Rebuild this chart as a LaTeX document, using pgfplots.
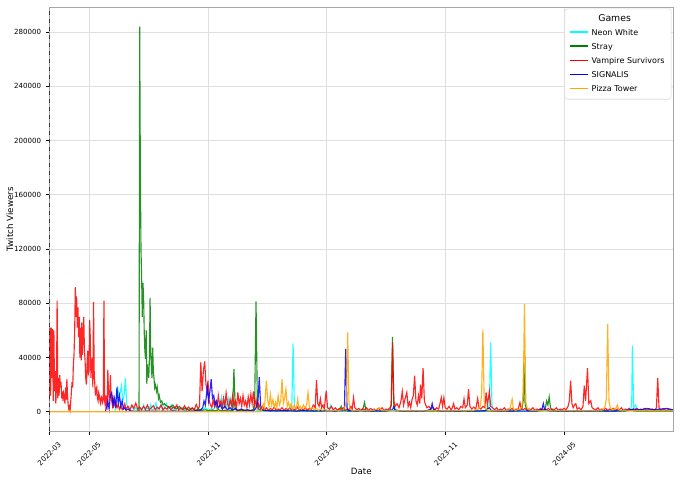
\documentclass[border=0pt]{standalone}
\usepackage{fontspec}
\setmainfont{DejaVu Sans}
\usepackage{pgfplots}
\pgfplotsset{compat=1.18}
\definecolor{mcyan}{HTML}{00FFFF}
\definecolor{mgreen}{HTML}{008000}
\definecolor{mred}{HTML}{FF0000}
\definecolor{mblue}{HTML}{0000FF}
\definecolor{morange}{HTML}{FFA500}
\begin{document}
\begin{tikzpicture}
\useasboundingbox (-37pt,-40.5pt) rectangle (473pt,323.3pt);
\begin{axis}[
  scale only axis,
  width=468pt, height=317.8pt,
  xmin=0, xmax=960,
  ymin=-14200, ymax=298200,
  xtick={0,61,245,426,610,792},
  xticklabels={2022-03,2022-05,2022-11,2023-05,2023-11,2024-05},
  ytick={0,40000,80000,120000,160000,200000,240000,280000},
  scaled y ticks=false,
  yticklabel style={/pgf/number format/.cd, fixed, 1000 sep={}, assume math mode=true},
  tick label style={font=\fontsize{5.3}{6}\selectfont},
  x tick label style={yshift=-14.5pt, rotate=45, anchor=center},
  label style={font=\fontsize{6.5}{8}\selectfont},
  xlabel={Date},
  ylabel={Twitch Viewers},
  xlabel style={at={(axis description cs:0.5,-0.096)}, anchor=center},
  ylabel style={at={(axis description cs:-0.063,0.5)}, anchor=center, rotate=0},
  tick align=outside,
  major tick length=2.6pt,
  tick style={black, line width=0.5pt},
  xtick pos=bottom, ytick pos=left,
  grid=major,
  major grid style={gray!25, line width=0.5pt},
  axis line style={gray!70, line width=0.6pt},
  legend cell align=left,
  legend style={at={(0.997,0.997)}, anchor=north east, draw=gray!30, rounded corners=2pt,
    fill=white, font=\fontsize{6}{7}\selectfont, row sep=0.6pt, inner xsep=3pt, inner ysep=2pt},
]

% Neon White
\addplot[mcyan, line width=0.85pt, opacity=0.85, forget plot] coordinates {
(101,0)(103,8000)(105,19000)(107,10000)(109,14000)(111,19000)(113,8000)(115,12000)(117,24900)(119,6000)
(121,3000)(124,2000)(127,4000)(130,1500)(133,3000)(136,1000)(139,2500)(142,1500)(145,5000)(147,1000)
(150,3000)(153,1500)(156,5500)(158,1000)(161,2000)(164,6500)(166,1500)(169,3000)(172,5500)(174,1000)
(177,3000)(180,6000)(182,1500)(185,3000)(188,5000)(190,1000)(193,2500)(196,4000)(199,1000)(202,2000)
(205,3000)(208,1000)(212,2000)(216,1500)(220,2500)(224,1000)(228,2000)(232,1000)(236,1500)(240,3000)
(244,1000)(248,2000)(252,1500)(256,4000)(260,2000)(263,6000)(265,11000)(267,4000)(270,8000)(272,3000)
(275,10000)(277,3000)(279,9000)(281,2000)(285,1500)(290,1000)(295,1500)(300,1000)(305,1500)(310,1000)
(315,2000)(320,1000)(325,1500)(330,800)(335,1200)(340,800)(345,1000)(350,700)(355,1000)(360,800)
(365,1200)(370,1000)(373,3000)(375,50400)(377,4000)(380,1000)(385,800)(390,600)(400,700)(410,500)
(420,700)(430,1500)(433,5000)(436,1000)(445,600)(455,500)(465,700)(475,500)(485,600)(495,500)(505,700)
(515,500)(525,600)(535,500)(545,600)(555,500)(565,700)(575,500)(585,600)(595,500)(605,700)(615,500)
(625,600)(635,500)(645,700)(655,500)(665,800)(673,1000)(677,5000)(679,51100)(681,5000)(683,1500)
(690,700)(700,500)(710,600)(720,500)(730,700)(740,500)(750,600)(760,500)(770,700)(780,500)(790,600)
(800,500)(810,700)(820,500)(830,600)(840,500)(850,700)(860,500)(870,600)(880,500)(890,800)(894,1000)
(896,6000)(897,48700)(899,3000)(902,5000)(905,1000)(915,600)(925,500)(935,700)(945,500)(959,500)
};

% Stray
\addplot[mgreen, line width=0.85pt, opacity=0.85, forget plot] coordinates {
(138,0)(139,284000)(140,180000)(141,120000)(142,99000)(143,70000)(144,95000)(145,85600)(146,58500)
(147,45000)(148,39000)(149,60000)(150,20600)(151,35000)(152,28000)(153,25000)(154,40000)(155,84000)
(156,45000)(157,32400)(158,25000)(159,47400)(160,30000)(161,25000)(162,18000)(163,20000)(165,15000)
(166,18000)(168,10000)(169,12000)(171,7000)(173,8000)(175,5000)(177,6000)(179,5000)(182,4000)
(185,3000)(190,5000)(195,2000)(200,4000)(205,1500)(210,3000)(215,1000)(220,2500)(225,1000)(230,2000)
(235,1000)(240,1500)(245,800)(250,1200)(255,800)(260,1500)(265,700)(270,1000)(275,600)(280,1000)
(282,2000)(284,31500)(286,2000)(290,1000)(295,800)(300,1200)(305,700)(310,1000)(314,1500)(316,10000)
(318,81400)(320,8000)(322,2000)(326,1000)(330,800)(340,600)(350,900)(360,500)(370,700)(380,500)
(390,800)(400,500)(410,700)(420,600)(430,800)(440,600)(447,1500)(449,4000)(451,800)(460,600)(470,700)
(480,900)(483,3000)(485,6900)(487,1000)(495,600)(505,700)(515,500)(524,1000)(526,5000)(528,55300)
(530,5000)(532,1500)(540,700)(550,600)(560,500)(570,700)(580,500)(590,600)(600,500)(610,700)(620,500)
(630,600)(640,500)(650,600)(660,500)(670,600)(680,500)(690,600)(700,500)(710,600)(720,700)(727,2000)
(729,8000)(730,36400)(732,5000)(735,1000)(745,600)(755,700)(763,2000)(765,8000)(767,5000)(769,11000)
(771,3000)(775,800)(785,500)(795,600)(805,500)(815,600)(825,500)(835,600)(845,500)(855,600)(865,500)
(875,600)(885,500)(895,1500)(900,600)(910,500)(920,600)(930,500)(940,600)(950,500)(959,600)
};

% Vampire Survivors
\addplot[mred, line width=0.85pt, opacity=0.85, forget plot] coordinates {
(0,8000)(1,62000)(2,12000)(3,62000)(4,25000)(5,61000)(6,8000)(7,60000)(8,15000)(9,30000)(10,6000)
(11,20000)(12,82000)(13,10000)(14,25000)(15,12000)(16,27000)(17,18000)(18,22000)(19,10000)(20,15000)
(21,8000)(22,14000)(23,12000)(24,6000)(25,18000)(26,9000)(27,24000)(28,12000)(29,5000)(30,2000)
(31,4000)(32,1500)(33,8000)(34,15000)(35,22000)(36,18000)(37,35000)(38,42000)(39,60000)(40,92000)
(41,70000)(42,85000)(43,62000)(44,77000)(45,55000)(46,70000)(47,40000)(48,62000)(49,38000)(50,66000)
(51,42000)(52,58000)(53,70000)(54,45000)(55,38000)(56,25000)(57,20000)(58,35000)(59,45000)(60,28000)
(61,30000)(62,67700)(63,55000)(64,25000)(65,35000)(66,40000)(67,18000)(68,81000)(69,30000)(70,20000)
(71,12000)(72,16000)(73,18000)(74,10000)(75,8000)(76,14000)(77,12000)(78,8000)(79,6000)(80,11000)
(81,10000)(82,7000)(83,9000)(84,82000)(85,8000)(86,5000)(87,12000)(88,6000)(89,4000)(90,31000)
(91,15000)(92,10000)(93,14000)(94,27000)(95,12000)(96,8000)(97,5000)(98,12000)(99,4000)(100,5000)
(102,8000)(104,3000)(106,5000)(108,2000)(110,4500)(112,1500)(114,3000)(116,6000)(118,2000)(121,4000)
(124,1500)(127,5000)(130,2500)(133,6500)(136,2000)(139,3500)(142,1500)(145,4000)(148,2000)(151,5000)
(154,1500)(157,3000)(160,4500)(163,1500)(166,3500)(169,2000)(172,5000)(175,1500)(178,3000)(181,2000)
(184,4000)(187,1500)(190,3500)(193,2500)(196,5000)(199,1500)(202,3000)(205,2000)(208,4500)(211,1500)
(214,3500)(217,2000)(220,3000)(223,1500)(226,5500)(229,2000)(231,4000)(233,36400)(235,15000)
(237,30000)(239,37100)(241,20000)(243,15000)(244,22900)(246,8000)(248,5000)(250,3000)(252,9000)
(254,4000)(256,7000)(258,3000)(260,12000)(262,5000)(264,8000)(266,3000)(268,10000)(270,4000)
(272,14000)(274,6000)(276,3000)(278,9000)(280,5000)(282,12000)(284,4000)(286,8000)(288,3000)
(290,14300)(292,6000)(294,10000)(296,4000)(298,12000)(300,5000)(302,8000)(304,3000)(306,11000)
(308,5000)(310,13000)(312,6000)(314,15000)(316,4000)(318,9000)(320,3000)(322,6000)(325,2000)
(328,4000)(331,1500)(334,3000)(337,1000)(340,2500)(343,1500)(346,3500)(349,1000)(352,2000)(355,1500)
(358,3000)(361,1000)(364,2500)(367,1500)(370,3000)(373,1000)(376,2000)(379,1500)(382,3500)(385,1000)
(388,2000)(391,1500)(394,3000)(397,1000)(400,2500)(403,1500)(406,5000)(409,3000)(411,23400)(413,6000)
(415,4000)(417,9600)(419,3000)(421,5000)(423,2000)(426,15500)(428,3000)(431,2000)(434,4000)(437,1500)
(440,3000)(443,1000)(446,2500)(449,1500)(452,3000)(455,1000)(458,2000)(461,1500)(464,4000)(466,2000)
(468,10500)(470,3000)(473,1500)(476,2500)(479,1000)(482,2000)(485,1500)(488,3000)(491,1000)(494,2500)
(497,1500)(500,2000)(503,1000)(506,2500)(509,1500)(512,3000)(515,1000)(518,2000)(521,1500)(524,3000)
(526,5000)(528,51100)(530,8000)(532,4000)(535,6000)(538,3000)(541,8000)(543,15000)(545,5000)(547,9000)
(550,14300)(552,4000)(554,7000)(556,3000)(558,9000)(560,12000)(562,26600)(564,8000)(566,5000)
(568,12000)(570,6000)(571,20000)(573,10000)(575,32200)(577,8000)(579,5000)(581,3000)(584,4000)
(587,2000)(590,3500)(593,1500)(596,3000)(599,2000)(601,6000)(603,10500)(605,4000)(607,10500)(609,3000)
(612,2000)(615,4000)(618,1500)(620,3000)(622,6000)(624,2000)(627,3000)(630,1500)(633,4000)(636,3000)
(638,9600)(640,3000)(643,5000)(645,16700)(647,4000)(650,2000)(653,3500)(656,2000)(659,9800)(661,3000)
(664,2000)(667,4000)(670,3000)(672,14300)(674,5000)(677,15000)(679,4000)(682,3000)(685,1500)(688,3000)
(691,1000)(694,2000)(697,1500)(700,3000)(703,1000)(706,2000)(709,1500)(712,2500)(715,1000)(718,2000)
(721,1500)(724,6900)(726,2000)(729,1500)(732,2500)(735,1000)(738,2000)(741,1500)(744,3000)(747,1000)
(750,2000)(753,1500)(756,2500)(759,1000)(762,2000)(765,1500)(768,2500)(771,1000)(774,2000)(777,1500)
(780,3000)(783,1000)(786,2000)(789,1500)(792,2500)(795,1500)(798,4000)(800,8000)(802,22900)(804,6000)
(806,3000)(808,5000)(810,6000)(812,2000)(815,3000)(818,1500)(821,4000)(823,19200)(825,8000)(828,32200)
(830,6000)(833,8100)(835,3000)(838,2000)(841,1500)(844,3000)(847,1000)(850,2000)(853,1500)(856,2500)
(859,1000)(862,2000)(865,1500)(868,2500)(871,1000)(874,2000)(877,1500)(880,3000)(883,1000)(886,2000)
(889,1500)(892,2500)(895,1000)(898,2000)(901,1500)(904,2500)(907,1000)(910,2000)(913,1500)(916,2500)
(919,1000)(922,2000)(925,1500)(928,2000)(931,1000)(934,3000)(936,24900)(938,3000)(941,1000)(944,2000)
(947,1500)(950,1000)(953,2000)(956,1000)(959,1500)
};

% SIGNALIS
\addplot[mblue, line width=0.85pt, opacity=0.85, forget plot] coordinates {
(86,0)(88,3000)(90,8000)(92,2000)(94,12000)(96,14000)(98,5000)(100,10000)(102,3000)(104,18000)
(106,6000)(108,12000)(110,4000)(112,8000)(114,2000)(116,3000)(118,1000)(121,2000)(124,800)(130,500)
(140,400)(150,600)(160,400)(170,500)(180,400)(190,600)(200,500)(210,400)(220,600)(228,800)(232,1000)
(236,3000)(238,8000)(240,5000)(243,18000)(245,8000)(247,15000)(249,24000)(251,10000)(253,12000)
(255,5000)(257,8000)(260,3000)(263,5000)(266,2000)(270,4000)(274,1500)(278,3000)(282,1000)(286,2500)
(290,1000)(295,2000)(300,1000)(305,1500)(310,800)(315,1200)(318,3000)(321,8000)(323,25500)(325,5000)
(327,2000)(330,1000)(340,800)(350,600)(360,900)(370,700)(380,600)(390,800)(400,700)(410,600)(420,800)
(430,700)(440,600)(450,800)(454,3000)(456,46300)(458,3000)(460,800)(470,600)(480,700)(490,500)
(500,600)(510,500)(520,700)(528,1500)(530,4000)(532,800)(540,600)(550,500)(560,600)(570,500)(580,700)
(587,2000)(589,6100)(591,1500)(600,600)(610,500)(620,600)(630,500)(640,700)(650,500)(660,600)
(670,800)(677,3000)(680,800)(690,500)(700,600)(710,500)(720,600)(730,500)(740,600)(750,500)(758,2000)
(760,6100)(762,1500)(770,600)(780,500)(790,600)(800,500)(810,600)(820,500)(830,600)(840,500)(850,700)
(860,500)(870,600)(880,800)(890,1200)(900,2000)(910,1500)(920,2500)(930,1500)(940,2000)(950,2500)
(959,1500)
};

% Pizza Tower
\addplot[morange, line width=0.85pt, opacity=0.85, forget plot] coordinates {
(0,0)(325,0)(327,2000)(329,6000)(331,3000)(334,22900)(336,8000)(338,4000)(340,13000)(342,5000)
(344,9000)(346,3000)(348,7000)(350,3000)(352,12000)(354,5000)(356,8000)(358,24000)(360,6000)
(362,10000)(364,16700)(366,4000)(368,7000)(370,3000)(372,6000)(374,2000)(377,5000)(380,2000)
(382,9400)(384,3000)(386,4000)(388,2000)(391,5000)(394,2000)(396,6000)(398,14200)(400,4000)(402,2000)
(405,3000)(408,1500)(411,2500)(414,1000)(417,2000)(420,1000)(424,1500)(428,800)(432,1200)(436,800)
(440,1000)(444,700)(448,1200)(452,1500)(455,4000)(457,8000)(459,58500)(461,6000)(463,2000)(466,1000)
(470,800)(475,1200)(480,700)(485,1000)(490,700)(495,900)(500,1200)(505,2000)(508,3000)(510,1500)
(513,800)(518,1000)(523,700)(528,1000)(535,800)(540,700)(545,900)(550,700)(555,800)(560,600)
(565,1000)(570,700)(575,800)(580,600)(585,900)(590,700)(595,800)(600,600)(605,900)(610,700)(615,800)
(620,600)(625,900)(630,1000)(635,700)(640,800)(645,1200)(650,800)(655,1500)(660,2000)(663,4000)
(665,12000)(667,60500)(669,8000)(671,3000)(673,1500)(678,1000)(685,800)(690,700)(695,900)(700,700)
(705,1000)(709,3000)(712,9400)(714,2000)(717,1000)(721,1500)(725,2000)(727,4000)(729,12000)
(731,79500)(733,8000)(735,3000)(738,1500)(742,1000)(747,800)(752,1000)(757,700)(762,900)(767,700)
(772,800)(777,600)(782,900)(787,700)(792,800)(797,1000)(802,700)(807,900)(812,700)(817,800)(822,600)
(827,900)(832,700)(837,800)(842,600)(847,900)(852,1500)(855,4000)(857,10000)(859,64700)(861,8000)
(863,3000)(866,1500)(870,2000)(872,3000)(874,5000)(876,1500)(880,800)(885,1200)(890,700)(895,900)
(900,700)(905,1000)(910,700)(915,900)(920,700)(925,800)(930,600)(935,900)(940,700)(945,800)(950,600)
(955,900)(959,700)
};

\addplot[black, dashed, line width=0.6pt, forget plot] coordinates {(0,-14200) (0,298200)};

\addlegendimage{empty legend}
\addlegendentry{\hspace{5pt}\fontsize{7}{8}\selectfont Games}
\addlegendimage{legend image code/.code={\path[draw=mcyan, line width=1.1pt] (0pt,1pt) -- (14pt,1pt);}}
\addlegendentry{Neon White}
\addlegendimage{legend image code/.code={\path[draw=mgreen, line width=1.1pt] (0pt,1pt) -- (14pt,1pt);}}
\addlegendentry{Stray}
\addlegendimage{legend image code/.code={\path[draw=mred, line width=1.1pt] (0pt,1pt) -- (14pt,1pt);}}
\addlegendentry{Vampire Survivors}
\addlegendimage{legend image code/.code={\path[draw=mblue, line width=1.1pt] (0pt,1pt) -- (14pt,1pt);}}
\addlegendentry{SIGNALIS}
\addlegendimage{legend image code/.code={\path[draw=morange, line width=1.1pt] (0pt,1pt) -- (14pt,1pt);}}
\addlegendentry{Pizza Tower}
\end{axis}
\end{tikzpicture}
\end{document}
